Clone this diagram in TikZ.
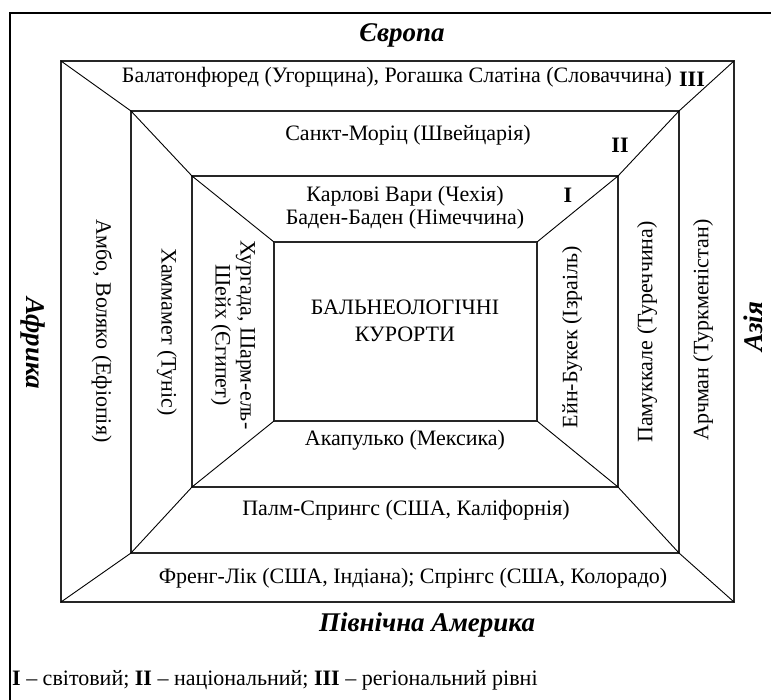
\documentclass[tikz,border=0pt]{standalone}
\usepackage{fontspec}
\setmainfont{Liberation Serif}
\begin{document}
\begin{tikzpicture}[x=1pt,y=-1pt,
  box/.style={draw=black!85,line width=1.3pt},
  diag/.style={draw=black,line width=0.9pt},
  lbl/.style={inner sep=0pt,font=\fontsize{22}{23}\selectfont,align=center},
  cont/.style={inner sep=0pt,font=\fontsize{27}{30}\bfseries\itshape\selectfont},
  lvl/.style={inner sep=0pt,font=\fontsize{22}{23}\bfseries\selectfont}]
\useasboundingbox (0,0) rectangle (771,700);
% outer frame (cut by the page edges)
\coordinate (fb) at (10,700);
\coordinate (fc) at (10,13);
\coordinate (fr) at (771,13);
\draw[line width=2.2pt] (fb) -- (fc) -- (fr);
% corners
\coordinate (IIItl) at (61,61);  \coordinate (IIItr) at (734,61);
\coordinate (IIIbl) at (61,602); \coordinate (IIIbr) at (734,602);
\coordinate (IItl) at (131,111); \coordinate (IItr) at (679,111);
\coordinate (IIbl) at (131,553); \coordinate (IIbr) at (679,553);
\coordinate (Itl) at (192,176);  \coordinate (Itr) at (618,176);
\coordinate (Ibl) at (192,487);  \coordinate (Ibr) at (618,487);
\coordinate (Ctl) at (274,242);  \coordinate (Ctr) at (537,242);
\coordinate (Cbl) at (274,421);  \coordinate (Cbr) at (537,421);
% boxes
\draw[box] (IIItl) rectangle (IIIbr);
\draw[box] (IItl) rectangle (IIbr);
\draw[box] (Itl) rectangle (Ibr);
\draw[box] (Ctl) rectangle (Cbr);
% diagonals
\draw[diag] (IIItl) -- (IItl) -- (Itl) -- (Ctl);
\draw[diag] (IIItr) -- (IItr) -- (Itr) -- (Ctr);
\draw[diag] (IIIbl) -- (IIbl) -- (Ibl) -- (Cbl);
\draw[diag] (IIIbr) -- (IIbr) -- (Ibr) -- (Cbr);
% continents
\node[cont] (eu) at (402,35) {Європа};
\node[cont] (na) at (427,625) {Північна Америка};
\node[cont,rotate=-90] (af) at (33,343) {Африка};
\node[cont,rotate=90] (as) at (753,327) {Азія};
% level III
\node[lbl] (t3) at (397,77) {Балатонфюред (Угорщина), Рогашка Слатіна (Словаччина)};
\node[lvl] (l3) at (692,79) {III};
\node[lbl] (b3) at (413,578) {Френг-Лік (США, Індіана); Спрінгс (США, Колорадо)};
\node[lbl,rotate=-90] (w3) at (102,331) {Амбо, Воляко (Ефіопія)};
\node[lbl,rotate=90] (e3) at (703,330) {Арчман (Туркменістан)};
% level II
\node[lbl] (t2) at (408,135) {Санкт-Моріц (Швейцарія)};
\node[lvl] (l2) at (620,145) {II};
\node[lbl] (b2) at (406,510) {Палм-Спрингс (США, Каліфорнія)};
\node[lbl,rotate=-90] (w2) at (167,332) {Хаммамет (Туніс)};
\node[lbl,rotate=90] (e2) at (647,332) {Памуккале (Туреччина)};
% level I
\node[lbl] (t1) at (405,208) {Карлові Вари (Чехія)\\Баден-Баден (Німеччина)};
\node[lvl] (l1) at (568,195) {I};
\node[lbl] (b1) at (405,440) {Акапулько (Мексика)};
\node[lbl,rotate=-90,font=\fontsize{22}{25}\selectfont] (w1) at (233,335) {Хургада, Шарм-ель-\\Шейх (Єгипет)};
\node[lbl,rotate=90] (e1) at (572,337) {Ейн-Букек (Ізраіль)};
% centre
\node[lbl,font=\fontsize{22}{27}\selectfont] (c) at (405,321) {БАЛЬНЕОЛОГІЧНІ\\КУРОРТИ};
% legend
\node[lbl,anchor=west] (leg) at (12,680) {\textbf{I} – світовий; \textbf{II} – національний; \textbf{III} – регіональний рівні};
\end{tikzpicture}
\end{document}
